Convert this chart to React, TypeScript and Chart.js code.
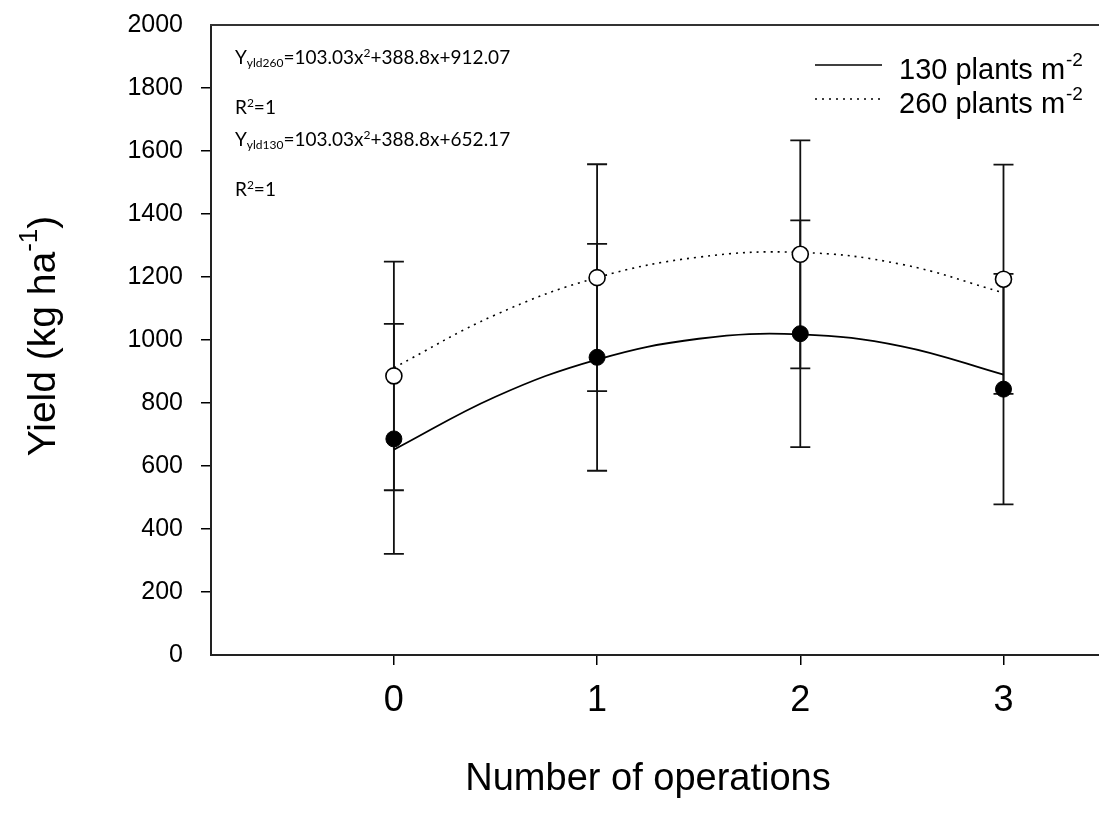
import React, { useEffect, useRef } from "react";
import { Chart, registerables } from "chart.js";

Chart.register(...registerables);

// ---- data ----
const opsX = [0, 1, 2, 3];
const yield130 = [686, 945, 1020, 844];
const yield260 = [886, 1198, 1272, 1193];
const se130 = [365, 360, 360, 366];
const se260 = [363, 360, 362, 364];
// fitted curves at a few x positions
const fitX = [0, 0.5, 1, 1.5, 2, 2.5, 3];
const fit130 = [652, 820, 938, 1004, 1018, 980, 890];
const fit260 = [912, 1080, 1198, 1263, 1278, 1240, 1150];
const xTicks = [0, 1, 2, 3];
const yTicks = [0, 200, 400, 600, 800, 1000, 1200, 1400, 1600, 1800, 2000];
const legendLabels = ["130 plants m", "260 plants m"];
const eqLines = [
  { main: "Y", sub: "yld260", rest: "=103.03x", sup: "2", tail: "+388.8x+912.07" },
  { main: "R", sub: "", rest: "", sup: "2", tail: "=1" },
  { main: "Y", sub: "yld130", rest: "=103.03x", sup: "2", tail: "+388.8x+652.17" },
  { main: "R", sub: "", rest: "", sup: "2", tail: "=1" },
];

const ARIAL = "'Liberation Sans', Arial, sans-serif";
const EQFONT = "Lato, 'Open Sans', sans-serif";

const errorBars = {
  id: "errorBars",
  beforeDatasetsDraw(chart: any) {
    const { ctx } = chart;
    const xs = chart.scales.x;
    const ys = chart.scales.y;
    ctx.save();
    ctx.strokeStyle = "#111";
    ctx.lineWidth = 1.8;
    const series = [
      { v: yield260, e: se260 },
      { v: yield130, e: se130 },
    ];
    series.forEach((s) => {
      opsX.forEach((xv, i) => {
        const px = xs.getPixelForValue(xv);
        const top = ys.getPixelForValue(s.v[i] + s.e[i]);
        const bot = ys.getPixelForValue(s.v[i] - s.e[i]);
        ctx.beginPath();
        ctx.moveTo(px, top);
        ctx.lineTo(px, bot);
        ctx.moveTo(px - 10, top);
        ctx.lineTo(px + 10, top);
        ctx.moveTo(px - 10, bot);
        ctx.lineTo(px + 10, bot);
        ctx.stroke();
      });
    });
    ctx.restore();
  },
};

const decorations = {
  id: "decorations",
  afterDraw(chart: any) {
    const { ctx, chartArea } = chart;
    ctx.save();
    // top frame line
    ctx.strokeStyle = "#333";
    ctx.lineWidth = 2;
    ctx.beginPath();
    ctx.moveTo(chartArea.left - 1, chartArea.top);
    ctx.lineTo(chartArea.right, chartArea.top);
    ctx.stroke();

    ctx.fillStyle = "#000";
    // x title
    ctx.font = `38px ${ARIAL}`;
    ctx.textAlign = "center";
    ctx.textBaseline = "middle";
    ctx.fillText("Number of operations", 648, 780);

    // y title (rotated)
    ctx.save();
    ctx.translate(44, 336);
    ctx.rotate(-Math.PI / 2);
    ctx.textBaseline = "middle";
    ctx.textAlign = "left";
    const big = `39px ${ARIAL}`;
    const small = `26px ${ARIAL}`;
    ctx.font = big;
    const w1 = ctx.measureText("Yield (kg ha").width;
    ctx.font = small;
    const w2 = ctx.measureText("-1").width;
    ctx.font = big;
    const w3 = ctx.measureText(")").width;
    let x0 = -(w1 + w2 + w3) / 2;
    ctx.font = big;
    ctx.fillText("Yield (kg ha", x0, 0);
    x0 += w1;
    ctx.font = small;
    ctx.fillText("-1", x0, -14);
    x0 += w2;
    ctx.font = big;
    ctx.fillText(")", x0, 0);
    ctx.restore();

    // legend
    const legY = [65, 99];
    ctx.textAlign = "left";
    ctx.textBaseline = "alphabetic";
    legendLabels.forEach((lab, i) => {
      ctx.save();
      ctx.strokeStyle = "#000";
      ctx.lineWidth = i === 0 ? 1.6 : 1.5;
      if (i === 1) ctx.setLineDash([2, 5]);
      ctx.beginPath();
      ctx.moveTo(815, legY[i]);
      ctx.lineTo(882, legY[i]);
      ctx.stroke();
      ctx.restore();
      ctx.font = `29px ${ARIAL}`;
      ctx.fillText(lab, 899, legY[i] + 14);
      const w = ctx.measureText(lab).width;
      ctx.font = `19px ${ARIAL}`;
      ctx.fillText("-2", 899 + w + 1, legY[i] + 1);
    });

    // equations
    const eqY = [64, 114, 146, 196];
    eqLines.forEach((ln, i) => {
      let x = 235;
      const y = eqY[i];
      ctx.font = `19px ${EQFONT}`;
      ctx.fillText(ln.main, x, y);
      x += ctx.measureText(ln.main).width;
      if (ln.sub) {
        ctx.font = `12px ${EQFONT}`;
        ctx.fillText(ln.sub, x, y + 3);
        x += ctx.measureText(ln.sub).width;
      }
      if (ln.rest) {
        ctx.font = `19px ${EQFONT}`;
        ctx.fillText(ln.rest, x, y);
        x += ctx.measureText(ln.rest).width;
      }
      ctx.font = `12px ${EQFONT}`;
      ctx.fillText(ln.sup, x, y - 7);
      x += ctx.measureText(ln.sup).width;
      ctx.font = `19px ${EQFONT}`;
      ctx.fillText(ln.tail, x, y);
    });
    ctx.restore();
  },
};

export default function App() {
  const ref = useRef<HTMLCanvasElement>(null);
  useEffect(() => {
    if (!ref.current) return;
    const chart = new Chart(ref.current, {
      type: "scatter",
      data: {
        datasets: [
          {
            label: "fit130",
            data: fitX.map((x, i) => ({ x, y: fit130[i] })),
            showLine: true,
            borderColor: "#000",
            borderWidth: 1.8,
            pointRadius: 0,
            tension: 0.4,
            order: 3,
          },
          {
            label: "fit260",
            data: fitX.map((x, i) => ({ x, y: fit260[i] })),
            showLine: true,
            borderColor: "#000",
            borderWidth: 1.6,
            borderDash: [2, 5],
            pointRadius: 0,
            tension: 0.4,
            order: 3,
          },
          {
            label: "130 plants",
            data: opsX.map((x, i) => ({ x, y: yield130[i] })),
            pointRadius: 8,
            pointBackgroundColor: "#000",
            pointBorderColor: "#000",
            pointBorderWidth: 1,
            order: 1,
          },
          {
            label: "260 plants",
            data: opsX.map((x, i) => ({ x, y: yield260[i] })),
            pointRadius: 8,
            pointBackgroundColor: "#fff",
            pointBorderColor: "#000",
            pointBorderWidth: 1.6,
            order: 1,
          },
        ],
      },
      options: {
        responsive: false,
        animation: false,
        devicePixelRatio: 1,
        layout: { autoPadding: false, padding: { top: 25, right: 0, left: 0, bottom: 0 } },
        plugins: {
          legend: { display: false },
          tooltip: { enabled: false },
        },
        scales: {
          x: {
            type: "linear",
            min: -0.9,
            max: 3.47,
            afterBuildTicks: (s: any) => {
              s.ticks = xTicks.map((v) => ({ value: v }));
            },
            afterFit: (s: any) => {
              s.height = 163;
              s.paddingLeft = 0;
              s.paddingRight = 0;
            },
            ticks: {
              color: "#000",
              font: { family: ARIAL, size: 36 },
              padding: 14,
              maxRotation: 0,
              callback: (v: any) => String(v),
            },
            grid: {
              drawOnChartArea: false,
              drawTicks: true,
              tickLength: 10,
              color: "#000",
              lineWidth: 1.5,
            },
            border: { display: true, color: "#222", width: 2 },
          },
          y: {
            type: "linear",
            min: 0,
            max: 2000,
            afterBuildTicks: (s: any) => {
              s.ticks = yTicks.map((v) => ({ value: v }));
            },
            afterFit: (s: any) => {
              s.width = 211;
              s.paddingTop = 0;
              s.paddingBottom = 0;
            },
            ticks: {
              color: "#000",
              font: { family: ARIAL, size: 25 },
              padding: 18,
              callback: (v: any) => String(v),
            },
            grid: {
              drawOnChartArea: false,
              drawTicks: true,
              tickLength: 10,
              color: (c: any) =>
                c.tick && (c.tick.value === 0 || c.tick.value === 2000) ? "rgba(0,0,0,0)" : "#000",
              lineWidth: 1.5,
            },
            border: { display: true, color: "#222", width: 2 },
          },
        },
      },
      plugins: [errorBars, decorations],
    });
    return () => chart.destroy();
  }, []);
  return (
    <div style={{ position: "absolute", left: 0, top: 0, width: 1099, height: 818, background: "#fff" }}>
      <canvas ref={ref} width={1099} height={818} style={{ width: 1099, height: 818, display: "block" }} />
    </div>
  );
}
